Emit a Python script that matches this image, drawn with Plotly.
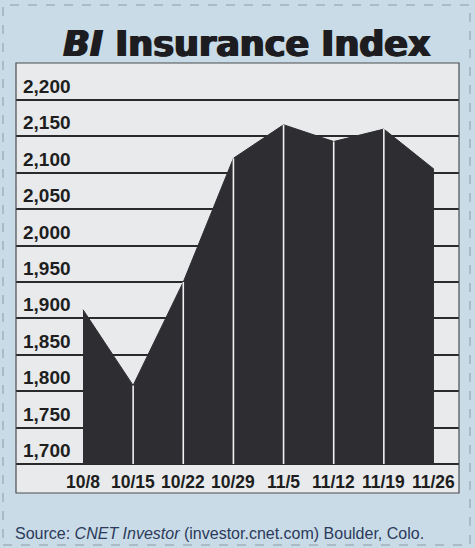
import plotly.graph_objects as go

# ---- data ----
dates = ["10/8", "10/15", "10/22", "10/29", "11/5", "11/12", "11/19", "11/26"]
index_values = [1912, 1808, 1950, 2120, 2166, 2143, 2160, 2105]
baseline_value = 1700
y_ticks = [1700, 1750, 1800, 1850, 1900, 1950, 2000, 2050, 2100, 2150, 2200]
y_tick_labels = ["1,700", "1,750", "1,800", "1,850", "1,900", "1,950",
                 "2,000", "2,050", "2,100", "2,150", "2,200"]
title_text = "<b><i>BI</i> Insurance Index</b>"
source_text = "Source: <i>CNET Investor</i> (investor.cnet.com) Boulder, Colo."

# ---- layout geometry (pixels) ----
W, H = 475, 548
L, R, T, B = 16, 16, 63, 55
PW, PH = W - L - R, H - T - B


def px_x(x):
    return (x - L) / PW


def px_y(y):
    return (H - B - y) / PH


xs = list(range(len(dates)))

fig = go.Figure()

# baseline for area fill
fig.add_trace(go.Scatter(
    x=xs, y=[baseline_value] * len(xs), mode="lines",
    line=dict(width=0, color="rgba(0,0,0,0)"), hoverinfo="skip", showlegend=False))

# dark area
fig.add_trace(go.Scatter(
    x=xs, y=index_values, mode="lines", fill="tonexty",
    fillcolor="#2e2d31", line=dict(width=1, color="#2e2d31"),
    showlegend=False))

# white vertical separators at interior dates
sx, sy = [], []
for i in xs[1:-1]:
    sx += [i, i, None]
    sy += [baseline_value, index_values[i], None]
fig.add_trace(go.Scatter(
    x=sx, y=sy, mode="lines", line=dict(width=1.6, color="#f2f2f2"),
    hoverinfo="skip", showlegend=False))

annotations = []
# y tick labels (above gridlines, left aligned)
for v, lab in zip(y_ticks, y_tick_labels):
    annotations.append(dict(
        x=px_x(21), xref="paper", y=v, yref="y", text=lab, showarrow=False,
        xanchor="left", yanchor="bottom", yshift=1,
        font=dict(family="Liberation Sans, Arial, sans-serif", size=19,
                  color="#1e1e1e", weight="bold")))
# x tick labels
for i, d in zip(xs, dates):
    annotations.append(dict(
        x=i, xref="x", y=px_y(482), yref="paper", text=d, showarrow=False,
        xanchor="center", yanchor="middle",
        font=dict(family="Liberation Sans, Arial, sans-serif",
                  size=17.5, color="#1e1e1e", weight="bold")))
# source
annotations.append(dict(
    x=px_x(13), xref="paper", y=px_y(533), yref="paper", text=source_text,
    showarrow=False, xanchor="left", yanchor="middle",
    font=dict(family="Liberation Sans, Arial, sans-serif", size=16, color="#2b3a5a")))

shapes = [
    # outer dashed frame
    dict(type="rect", xref="paper", yref="paper",
         x0=px_x(3), x1=px_x(470), y0=px_y(545), y1=px_y(5),
         line=dict(color="#8d9ba6", width=1, dash="dash"), layer="below"),
    # panel border
    dict(type="rect", xref="paper", yref="paper",
         x0=px_x(16), x1=px_x(459), y0=px_y(493), y1=px_y(63),
         line=dict(color="#4a4d50", width=1.2), layer="above"),
]

y0_px, y1_px = 464, 100   # pixel rows of 1,700 and 2,200 gridlines
per_unit = (y0_px - y1_px) / (2200 - 1700)
y_lo = 1700 - (H - B - y0_px) / per_unit
y_hi = 1700 + (y0_px - T) / per_unit

x0_px, step_px = 83, 50.14
x_lo = (L - x0_px) / step_px
x_hi = (W - R - x0_px) / step_px

fig.update_layout(
    width=W, height=H,
    margin=dict(l=L, r=R, t=T, b=B, pad=0),
    paper_bgcolor="#c9dbe7",
    plot_bgcolor="#e8eaeb",
    title=dict(text=title_text, x=247 / W, xref="container", xanchor="center",
               y=1 - 44 / H, yref="container", yanchor="middle",
               font=dict(family="DejaVu Sans, sans-serif", size=35, color="#1d1d21",
                         shadow="1px 0px 0px #1d1d21, -1px 0px 0px #1d1d21")),
    xaxis=dict(range=[x_lo, x_hi], showgrid=False, zeroline=False,
               showticklabels=False, ticks="", showline=False, fixedrange=True),
    yaxis=dict(range=[y_lo, y_hi], tickvals=y_ticks, showgrid=True,
               gridcolor="#2a2a2a", gridwidth=1.6, zeroline=False,
               showticklabels=False, ticks="", showline=False, fixedrange=True),
    annotations=annotations,
    shapes=shapes,
    showlegend=False,
)

fig.write_html("out.html")
